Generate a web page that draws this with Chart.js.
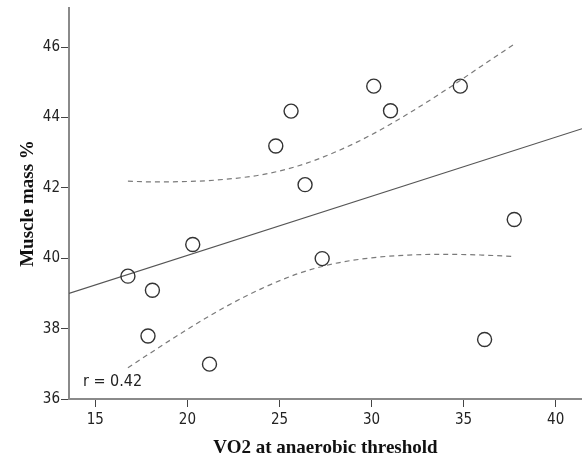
<!DOCTYPE html>
<html>
<head>
<meta charset="utf-8">
<script src="https://cdn.jsdelivr.net/npm/chart.js@4/dist/chart.umd.min.js"></script>
<style>
  html, body { margin: 0; padding: 0; background: #ffffff; }
  #wrap { width: 582px; height: 459px; }
</style>
</head>
<body>
<div id="wrap"><canvas id="c" width="582" height="459"></canvas></div>
<script>
// Observed points
const vo2    = [16.77, 18.10, 17.86, 20.29, 21.20, 24.80, 25.63, 26.39, 27.32, 30.12, 31.03, 34.82, 36.14, 37.75];
const muscle = [39.49, 39.09, 37.79, 40.39, 36.99, 43.19, 44.18, 42.09, 39.99, 44.89, 44.19, 44.89, 37.69, 41.10];

// Fit line (read at the two ends of the plot)
const fitX = [13.57, 41.43];
const fitY = [39.00, 43.68];

// 95% confidence band of the mean
const bandX  = [16.77, 18, 20, 22, 24, 26, 28, 30, 32, 34, 36, 37.75];
const bandHi = [42.19, 42.17, 42.18, 42.24, 42.37, 42.62, 43.01, 43.51, 44.11, 44.77, 45.47, 46.08];
const bandLo = [36.89, 37.31, 37.98, 38.60, 39.13, 39.56, 39.85, 40.01, 40.09, 40.11, 40.09, 40.05];

// Axis ticks
const xTicks = [15, 20, 25, 30, 35, 40];
const yTicks = [36, 38, 40, 42, 44, 46];
const rLabel = 'r = 0.42';

const pts = (xs, ys) => xs.map((x, i) => ({ x: x, y: ys[i] }));

const rTextPlugin = {
  id: 'rText',
  afterDatasetsDraw(chart) {
    const ctx = chart.ctx;
    const a = chart.chartArea;
    ctx.save();
    ctx.fillStyle = '#222';
    ctx.font = '16px "Liberation Sans Narrow", "DejaVu Sans Condensed", sans-serif';
    ctx.textAlign = 'left';
    ctx.textBaseline = 'alphabetic';
    ctx.fillText(rLabel, a.left + 14, a.bottom - 13);
    ctx.restore();
  }
};

const tickFont = { family: '"Liberation Sans Narrow", "DejaVu Sans Condensed", sans-serif', size: 15 };
const titleFont = { family: '"Liberation Serif", "DejaVu Serif", serif', size: 19, weight: 'bold' };

new Chart(document.getElementById('c'), {
  type: 'scatter',
  data: {
    datasets: [
      {
        label: 'points',
        data: pts(vo2, muscle),
        pointRadius: 7,
        pointHoverRadius: 7,
        pointBorderWidth: 1.4,
        pointBorderColor: '#333333',
        pointBackgroundColor: 'rgba(255,255,255,0)',
        showLine: false,
        order: 0
      },
      {
        label: 'fit',
        data: pts(fitX, fitY),
        showLine: true,
        borderColor: '#555555',
        borderWidth: 1.1,
        pointRadius: 0,
        order: 1
      },
      {
        label: 'upper',
        data: pts(bandX, bandHi),
        showLine: true,
        borderColor: '#7a7a7a',
        borderWidth: 1.2,
        borderDash: [5, 4],
        pointRadius: 0,
        cubicInterpolationMode: 'monotone',
        order: 2
      },
      {
        label: 'lower',
        data: pts(bandX, bandLo),
        showLine: true,
        borderColor: '#7a7a7a',
        borderWidth: 1.2,
        borderDash: [5, 4],
        pointRadius: 0,
        cubicInterpolationMode: 'monotone',
        order: 2
      }
    ]
  },
  options: {
    responsive: false,
    animation: false,
    layout: { autoPadding: false, padding: { top: 8, right: 0, left: 0, bottom: 0 } },
    plugins: {
      legend: { display: false },
      tooltip: { enabled: false }
    },
    scales: {
      x: {
        type: 'linear',
        min: 13.57,
        max: 41.43,
        afterFit(scale) { scale.height = 60; scale.paddingRight = 0; scale.paddingLeft = 0; },
        afterBuildTicks(scale) { scale.ticks = xTicks.map(v => ({ value: v })); },
        ticks: { font: tickFont, color: '#222', padding: 4, maxRotation: 0, autoSkip: false },
        grid: { drawOnChartArea: false, drawTicks: true, tickLength: 8, color: '#444', lineWidth: 1 },
        border: { display: true, color: '#8a8a8a', width: 2 },
        title: { display: true, text: 'VO2 at anaerobic threshold', font: titleFont, color: '#111', padding: { top: 0, bottom: 0 } }
      },
      y: {
        type: 'linear',
        min: 36,
        max: 47.11,
        afterFit(scale) { scale.width = 69; scale.paddingTop = 0; },
        afterBuildTicks(scale) { scale.ticks = yTicks.map(v => ({ value: v })); },
        ticks: { font: tickFont, color: '#222', padding: 1, autoSkip: false },
        grid: { drawOnChartArea: false, drawTicks: true, tickLength: 8, color: '#444', lineWidth: 1 },
        border: { display: true, color: '#8a8a8a', width: 2 },
        title: { display: true, text: 'Muscle mass %', font: titleFont, color: '#111', padding: { top: 17, bottom: 0 } }
      }
    }
  },
  plugins: [rTextPlugin]
});
</script>
</body>
</html>
